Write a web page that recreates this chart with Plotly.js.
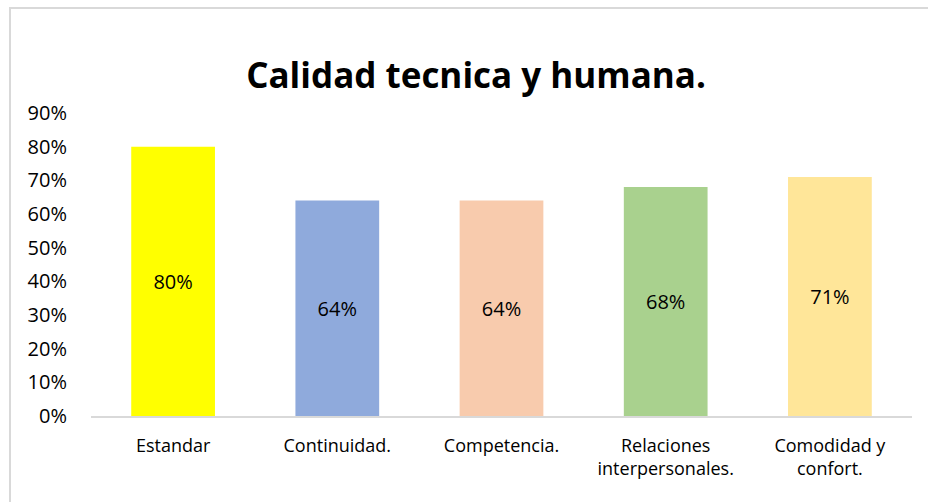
<!DOCTYPE html>
<html>
<head>
<meta charset="utf-8">
<script src="https://cdn.plot.ly/plotly-3.0.1.min.js"></script>
<style>
  html, body { margin: 0; padding: 0; background: #ffffff; overflow: hidden; }
  #wrap { position: relative; width: 928px; height: 502px; }
  #chart { position: absolute; left: 0; top: 0; width: 928px; height: 502px; }
  #frame { position: absolute; left: 9px; top: 7px; width: 940px; height: 520px;
           border: 2px solid #d9d9d9; box-sizing: border-box; pointer-events: none; }
</style>
</head>
<body>
<div id="wrap">
  <div id="chart"></div>
  <div id="frame"></div>
</div>
<script>
const categories = ["Estandar", "Continuidad.", "Competencia.", "Relaciones<br>interpersonales.", "Comodidad y<br>confort."];
const values = [0.80, 0.64, 0.64, 0.68, 0.71];
const labels = ["80%", "64%", "64%", "68%", "71%"];
const colors = ["#FFFF00", "#8FAADC", "#F8CBAD", "#A9D18E", "#FFE699"];
const yTicks = [0, 0.1, 0.2, 0.3, 0.4, 0.5, 0.6, 0.7, 0.8, 0.9];
const yTickText = ["0%", "10%", "20%", "30%", "40%", "50%", "60%", "70%", "80%", "90%"];

const FONT = "Open Sans, Lato, Liberation Sans, sans-serif";

const trace = {
  type: "bar",
  x: categories,
  y: values,
  text: labels,
  textposition: "inside",
  insidetextanchor: "middle",
  textangle: 0,
  textfont: { family: FONT, size: 20, color: "#000000" },
  marker: { color: colors, line: { width: 0 } },
  hoverinfo: "none",
  cliponaxis: false
};

const layout = {
  width: 928,
  height: 502,
  margin: { l: 91, r: 16, t: 113, b: 86, pad: 0 },
  paper_bgcolor: "#ffffff",
  plot_bgcolor: "#ffffff",
  showlegend: false,
  bargap: 0.49,
  font: { family: FONT, size: 18, color: "#000000" },
  title: {
    text: "<b>Calidad tecnica y humana.</b>",
    font: { family: FONT, size: 35, color: "#000000" },
    xref: "container", x: 0.513, xanchor: "center",
    yref: "container", y: 0.85, yanchor: "middle"
  },
  xaxis: {
    type: "category",
    showline: true,
    linecolor: "#d9d9d9",
    linewidth: 2,
    showgrid: false,
    zeroline: false,
    ticks: "",
    ticklabelstandoff: 12,
    tickfont: { family: FONT, size: 18, color: "#000000" },
    fixedrange: true
  },
  yaxis: {
    range: [0, 0.9],
    tickvals: yTicks,
    ticktext: yTickText,
    showline: false,
    showgrid: false,
    zeroline: false,
    ticks: "",
    ticklabelstandoff: 23,
    tickfont: { family: FONT, size: 20, color: "#000000" },
    fixedrange: true
  }
};

Plotly.newPlot("chart", [trace], layout, { displayModeBar: false, staticPlot: true });
</script>
</body>
</html>
